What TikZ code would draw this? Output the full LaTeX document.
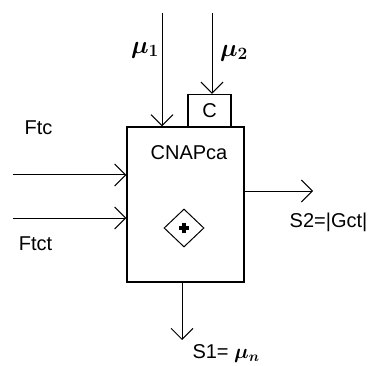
\documentclass[tikz,border=0pt]{standalone}
\usepackage{amsmath,amssymb}
\usepackage{fontspec}
\setmainfont{Liberation Sans}
\usetikzlibrary{arrows.meta,positioning,shapes.geometric}

\begin{document}
\begin{tikzpicture}[x=1pt,y=-1pt,line width=1pt,font=\fontsize{20}{24}\selectfont,
  blk/.style={draw,line width=1.2pt,inner sep=0pt},
  flow/.style={-{Straight Barb[length=11pt,width=22pt]}},
  mutxt/.style={font=\fontsize{26}{28}\selectfont\boldmath}]
\useasboundingbox (0,0) rectangle (369,366);
\node[blk,minimum width=117pt,minimum height=155pt] (cnap) at (185.5,204.5) {};
\node[blk,minimum width=43pt,minimum height=32pt,anchor=south] (cbox) at (209.5,127) {C};
\node (title) at (189,152.5) {CNAPca};
\node[draw,diamond,minimum width=40pt,minimum height=38pt,inner sep=0pt] (sum) at (184,228) {};
\draw[line width=3.5pt] ([xshift=-5pt]sum.center) -- ([xshift=5pt]sum.center)
  ([yshift=-5pt]sum.center) -- ([yshift=5pt]sum.center);
\coordinate (mu1in) at (162,13);
\coordinate (mu2in) at (212,13);
\coordinate (ftcin) at (13,175);
\coordinate (ftctin) at (13,218);
\coordinate (s2out) at (313,191);
\coordinate (s1out) at (182,340);
\draw[flow] (mu1in) -- (mu1in |- cnap.north);
\draw[flow] (mu2in) -- (mu2in |- cbox.north);
\draw[flow] (ftcin) -- (ftcin -| cnap.west);
\draw[flow] (ftctin) -- (ftctin -| cnap.west);
\draw[flow] (s2out -| cnap.east) -- (s2out);
\draw[flow] (s1out |- cnap.south) -- (s1out);
\node (ftc) at (38.5,127.5) {Ftc};
\node (ftct) at (35.5,244) {Ftct};
\node (s2) at (328.5,222.5) {S2=|Gct|};
\node[anchor=base west,inner sep=0pt] (s1) at (192,358) {S1= {\boldmath$\mu_n$}};
\node[mutxt] (mu1) at (145,50) {$\mu_1$};
\node[mutxt] (mu2) at (234,53) {$\mu_2$};
\end{tikzpicture}
\end{document}
